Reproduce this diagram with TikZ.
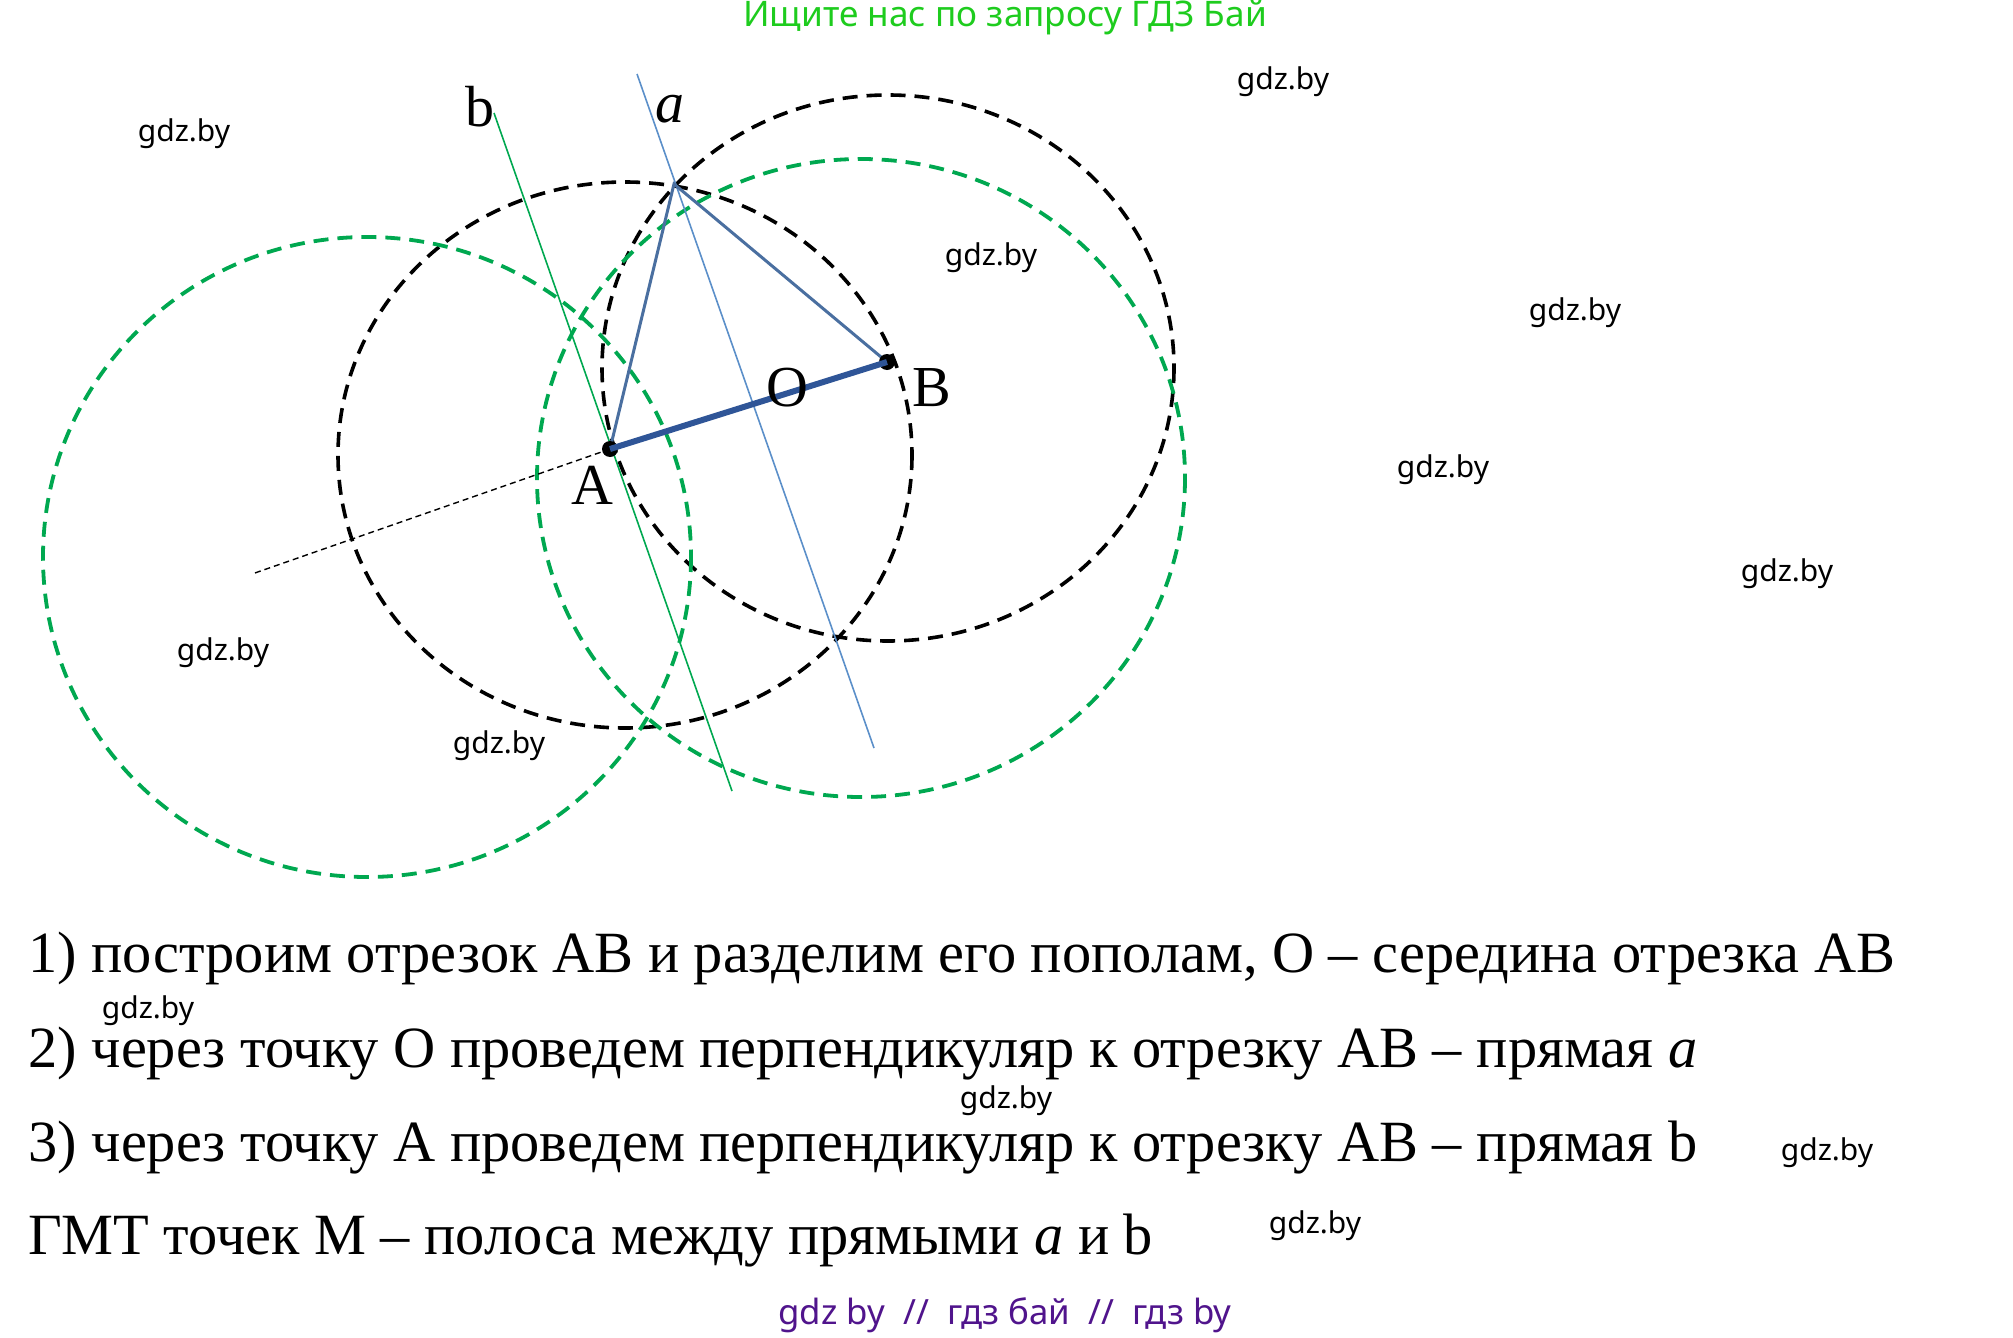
\documentclass[tikz,border=0pt]{standalone}
\usepackage{fontspec}
\setmainfont{Liberation Serif}
\newfontfamily\wmfont{Noto Sans}
\definecolor{cgreen}{RGB}{0,168,80}
\definecolor{hgreen}{RGB}{30,204,30}
\definecolor{lblue}{RGB}{91,143,201}
\definecolor{tblue}{RGB}{74,111,160}
\definecolor{sblue}{RGB}{47,85,151}
\definecolor{fpurple}{RGB}{80,20,140}
\begin{document}
\begin{tikzpicture}[x=0.5pt,y=-0.5pt,
  blackcirc/.style={draw=black,line width=1.8pt,dash pattern=on 7.5pt off 4.5pt},
  greencirc/.style={draw=cgreen,line width=1.9pt,dash pattern=on 7.5pt off 4.5pt},
  wm/.style={font=\wmfont\fontsize{15}{18}\selectfont,text=black},
  lbl/.style={font=\fontsize{29}{34}\selectfont},
  txt/.style={font=\fontsize{29.2}{35}\selectfont,anchor=base west,inner sep=0pt},
  dot/.style={circle,fill=black,inner sep=0pt,minimum size=8pt}]
\useasboundingbox (0,0) rectangle (2013,1338);
% circles
\draw[blackcirc] (625,455) ellipse [x radius=287,y radius=273];
\draw[blackcirc] (888,368) ellipse [x radius=286,y radius=273];
\draw[greencirc] (367,557) ellipse [x radius=324,y radius=320];
\draw[greencirc] (861,478) ellipse [x radius=324,y radius=319];
% points
\coordinate (A) at (610,449);
\coordinate (B) at (887,362);
\coordinate (C) at (674,184);
\coordinate (D) at (252,574);
\coordinate (a1) at (637,74);
\coordinate (a2) at (874,748);
\coordinate (b1) at (494,113);
\coordinate (b2) at (732,791);
% lines
\draw[black,line width=0.7pt,dash pattern=on 3pt off 2pt] (A) -- (D);
\draw[lblue,line width=0.8pt] (a1) -- (a2);
\draw[cgreen,line width=0.8pt] (b1) -- (b2);
\draw[tblue,line width=1.5pt] (A) -- (C) -- (B);
\node[dot] (Ad) at (A) {};
\node[dot] (Bd) at (B) {};
\draw[sblue,line width=3pt] (A) -- (B);
% labels
\node[lbl] (lA) at (592,485) {A};
\node[lbl] (lB) at (932,388) {B};
\node[lbl] (lO) at (787,388) {O};
\node[lbl] (lb) at (480,107) {b};
\node[lbl] (la) at (670,109) {\itshape a};
% header/footer
\node[font=\wmfont\fontsize{17.6}{20}\selectfont,text=hgreen] (hdr) at (1005,18) {Ищите нас по запросу ГДЗ Бай};
\node[font=\wmfont\fontsize{17.4}{20}\selectfont,text=fpurple] (ftr) at (1005,1315) {gdz by \ // \ гдз бай \ // \ гдз by};
% text
\node[txt] (t1) at (28,972) {1) построим отрезок АВ и разделим его пополам, О – середина отрезка АВ};
\node[txt] (t2) at (28,1067) {2) через точку О проведем перпендикуляр к отрезку АВ – прямая \textit{a}};
\node[txt] (t3) at (28,1161) {3) через точку А проведем перпендикуляр к отрезку АВ – прямая b};
\node[txt] (t4) at (28,1254) {ГМТ точек М – полоса между прямыми \textit{a} и b};
% watermarks
\node[wm] (w1) at (184,134) {gdz.by};
\node[wm] (w2) at (1283,82) {gdz.by};
\node[wm] (w3) at (991,258) {gdz.by};
\node[wm] (w4) at (1575,313) {gdz.by};
\node[wm] (w5) at (1443,470) {gdz.by};
\node[wm] (w6) at (1787,574) {gdz.by};
\node[wm] (w7) at (223,653) {gdz.by};
\node[wm] (w8) at (499,746) {gdz.by};
\node[wm] (w9) at (148,1011) {gdz.by};
\node[wm] (w10) at (1006,1101) {gdz.by};
\node[wm] (w11) at (1827,1153) {gdz.by};
\node[wm] (w12) at (1315,1226) {gdz.by};
\end{tikzpicture}
\end{document}
